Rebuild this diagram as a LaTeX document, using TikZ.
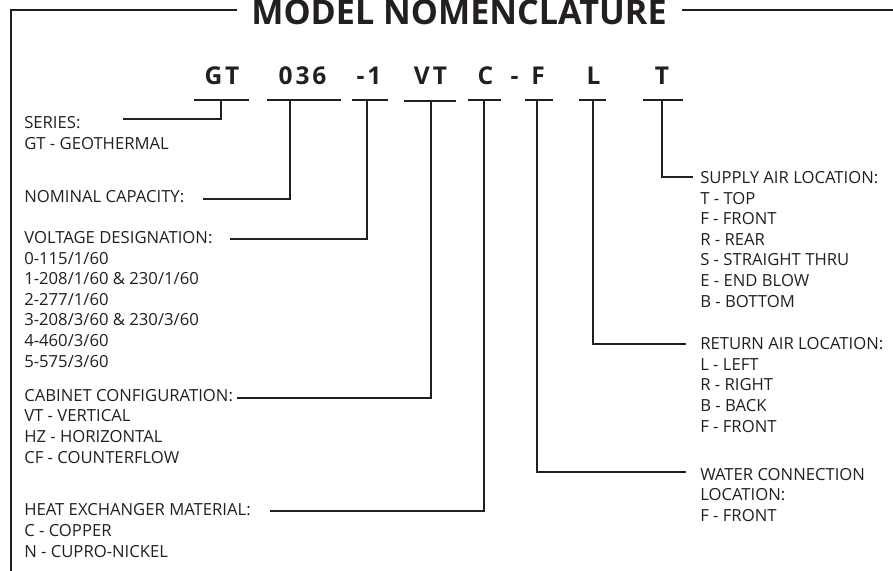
\documentclass[tikz,border=0pt]{standalone}
\usepackage{fontspec}
\setmainfont{Open Sans}
\newfontfamily\codefont[LetterSpace=12]{Open Sans Bold}
\newfontfamily\titlefont{Open Sans Bold}
\definecolor{ink}{HTML}{231F20}
\begin{document}
\begin{tikzpicture}[x=0.75pt,y=-0.75pt,
  lbl/.style={anchor=base west,inner sep=0pt,align=left,text=ink,
    font=\fontsize{12.5}{15.45}\selectfont},
  codetxt/.style={anchor=base,inner sep=0pt,text=ink,
    font=\codefont\fontsize{18.4}{20}\selectfont},
  ln/.style={draw=ink,line width=1.5pt,line cap=butt,line join=miter},
]
\useasboundingbox (0,0) rectangle (893,571);
% title and frame
\node[anchor=base,inner sep=0pt,text=ink,font=\titlefont\fontsize{25.6}{28}\selectfont] (title) at (459,24.6) {MODEL NOMENCLATURE};
\coordinate (frL) at (237,9.5);
\coordinate (frC) at (10.5,9.5);
\coordinate (frB) at (10.5,572);
\coordinate (frR) at (682,9.5);
\coordinate (frE) at (894,9.5);
\draw[ln] (frL) -- (frC) -- (frB);
\draw[ln] (frR) -- (frE);
% code letters
\node[codetxt] (cGT) at (222,84) {GT};
\node[codetxt] (c036) at (302.5,84) {036};
\node[codetxt] (c1) at (369,84) {-1};
\node[codetxt] (cVT) at (430.5,84) {VT};
\node[codetxt] (cC) at (485.5,84) {C};
\node[codetxt] (cdash) at (514.5,84) {-};
\node[codetxt] (cF) at (538,84) {F};
\node[codetxt] (cL) at (593.5,84) {L};
\node[codetxt] (cT) at (662,84) {T};
% underlines
\draw[ln] (194,100) -- (249,100);
\draw[ln] (267,100) -- (341,100);
\draw[ln] (352,100) -- (388,100);
\draw[ln] (404,100.7) -- (456,100.7);
\draw[ln] (468,100) -- (501,100);
\draw[ln] (525,100) -- (553,100);
\draw[ln] (579,100) -- (606,100);
\draw[ln] (643,100) -- (683,100);
% stem tops
\coordinate (sGT) at (221,100);
\coordinate (s036) at (290,100);
\coordinate (s1) at (366.5,100);
\coordinate (sVT) at (430.5,100.7);
\coordinate (sC) at (484,100);
\coordinate (sF) at (537,100);
\coordinate (sL) at (593,100);
\coordinate (sT) at (661.5,100);
% connector ends
\coordinate (eSeries) at (123,119.3);
\coordinate (eNom) at (203,198.7);
\coordinate (eVolt) at (230,238.7);
\coordinate (eCab) at (237,398.3);
\coordinate (eHeat) at (270,510.5);
\coordinate (eSupply) at (693,176.7);
\coordinate (eReturn) at (685.7,344);
\coordinate (eWater) at (685.7,472.3);
% labels left (anchored at the baseline of the last line)
\node[lbl] (lSeries) at (24,149.5) {SERIES:\\GT - GEOTHERMAL};
\node[lbl] (lNom) at (24,202.5) {NOMINAL CAPACITY:};
\node[lbl] (lVolt) at (24,367) {VOLTAGE DESIGNATION:\\0-115/1/60\\1-208/1/60 \& 230/1/60\\2-277/1/60\\3-208/3/60 \& 230/3/60\\4-460/3/60\\5-575/3/60};
\node[lbl] (lCab) at (24,463) {CABINET CONFIGURATION:\\VT - VERTICAL\\HZ - HORIZONTAL\\CF - COUNTERFLOW};
\node[lbl] (lHeat) at (24,557) {HEAT EXCHANGER MATERIAL:\\C - COPPER\\N - CUPRO-NICKEL};
% labels right
\node[lbl] (lSupply) at (700,307) {SUPPLY AIR LOCATION:\\T - TOP\\F - FRONT\\R - REAR\\S - STRAIGHT THRU\\E - END BLOW\\B - BOTTOM};
\node[lbl] (lReturn) at (700,432) {RETURN AIR LOCATION:\\L - LEFT\\R - RIGHT\\B - BACK\\F - FRONT};
\node[lbl] (lWater) at (700,521.5) {WATER CONNECTION\\LOCATION:\\F - FRONT};
% connectors
\draw[ln] (sGT) |- (eSeries);
\draw[ln] (s036) |- (eNom);
\draw[ln] (s1) |- (eVolt);
\draw[ln] (sVT) |- (eCab);
\draw[ln] (sC) |- (eHeat);
\draw[ln] (sT) |- (eSupply);
\draw[ln] (sL) |- (eReturn);
\draw[ln] (sF) |- (eWater);
\end{tikzpicture}
\end{document}
